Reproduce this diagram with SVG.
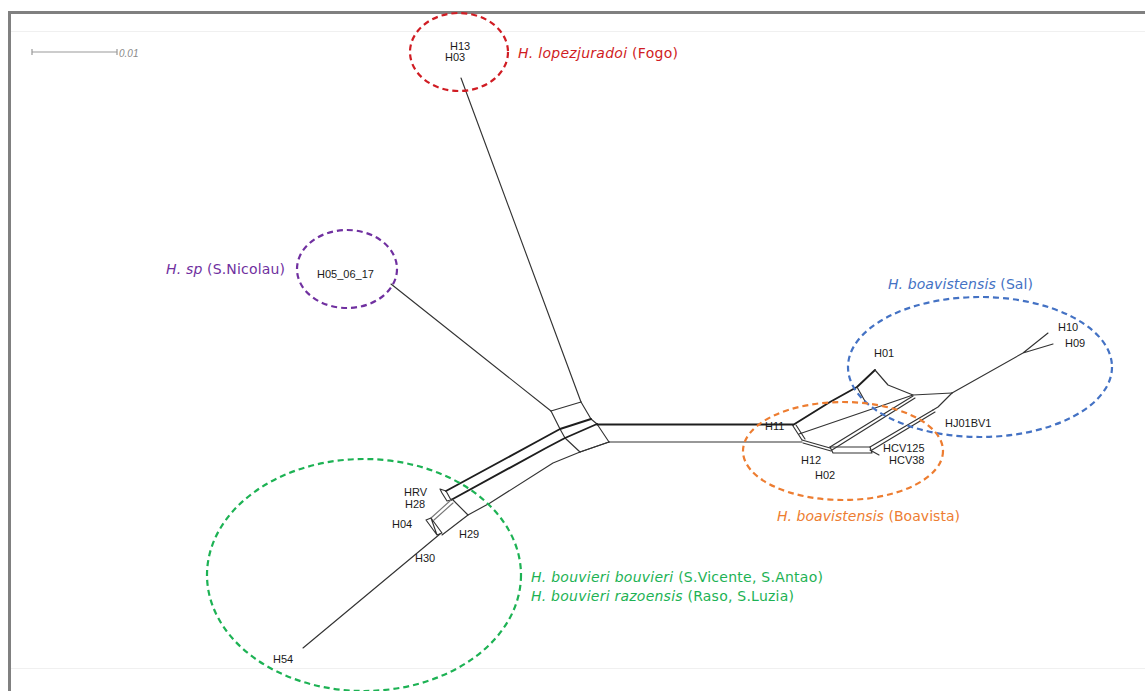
<svg xmlns="http://www.w3.org/2000/svg" width="1145" height="691" viewBox="0 0 1145 691">
  <style>
    .frame { fill: none; stroke: #808080; stroke-width: 3; }
    .rule { stroke: #f0f0f0; stroke-width: 1; }
    .edge { fill: none; stroke: #333; stroke-width: 1.15; stroke-linejoin: round; stroke-linecap: round; }
    .thick { stroke: #1e1e1e; stroke-width: 1.9; }
    .soft { stroke: #777; }
    .leaf { font-family: "Liberation Sans", Arial, sans-serif; font-size: 11px; fill: #1a1a1a; }
    .clade { font-family: "DejaVu Sans", Verdana, sans-serif; font-size: 14px; }
    .clade .sp { font-style: italic; }
    .ring { fill: none; stroke-width: 2.2; stroke-dasharray: 6 4; }
    .scale { stroke: #999; stroke-width: 1.2; fill: none; }
    .scaletxt { font-family: "Liberation Sans", Arial, sans-serif; font-size: 10px; font-style: italic; fill: #8a8a8a; }
  </style>

  <rect width="1145" height="691" fill="#fff"/>

  <!-- window frame -->
  <path class="frame" d="M9.5,691 V12.5 H1145"/>
  <line class="rule" x1="11" y1="31.5" x2="1145" y2="31.5"/>
  <line class="rule" x1="11" y1="668.5" x2="1145" y2="668.5"/>

  <!-- scale bar -->
  <g id="scale-bar">
    <path class="scale" d="M32,52 H117 M32,49 V55 M117,49 V55"/>
    <text class="scaletxt" x="119" y="57">0.01</text>
  </g>

  <!-- split network edges -->
  <g id="connectors">
    <!-- long pendant edges -->
    <path class="edge" d="M461,78 L581,402"/>
    <path class="edge" d="M391,284 L551,411"/>
    <!-- central box -->
    <path class="edge" d="M551,411 L581,402"/>
    <path class="edge" d="M551,411 L560,429 L565,438 L580,452"/>
    <path class="edge" d="M581,402 L591,419 L597,424 L609,442"/>
    <path class="edge" d="M580,452 L609,442"/>
    <!-- horizontal bridge -->
    <path class="edge thick" d="M597,424.5 H793"/>
    <path class="edge" d="M609,442 H802"/>
    <!-- left band -->
    <path class="edge thick" d="M591,419 L560,429 L538,441 L446,491"/>
    <path class="edge thick" d="M597,424 L565,438 L546,448 L451,500"/>
    <path class="edge" d="M609,442 L580,452 L553,463 L490,503 L468,515 L442,535"/>
    <path class="edge" d="M452,499 L468,515"/>
    <!-- HRV / H28 tip -->
    <path class="edge" d="M440,489 L446,491 L451,500 L447,501 L442,493 Z"/>
    <!-- H04 tip -->
    <path class="edge soft" d="M451,500 L431,518 M453,503 L434,520"/>
    <path class="edge" d="M426,520 L431,518 L442,533 L437,535 Z M431,518 L437,535"/>
    <!-- H30 / H54 edge -->
    <path class="edge" d="M440,534 L303,648"/>

    <!-- right block -->
    <path class="edge thick" d="M793,425 L830,402 L857,387 L875,370"/>
    <path class="edge" d="M875,370 L888,385 L913,395 L952,393"/>
    <path class="edge" d="M857,387 L866,403"/>
    <path class="edge" d="M952,393 L1023,353 L1048,333 M1023,353 L1053,344"/>
    <path class="edge" d="M793,426 L802,440 M796,425 L805,439"/>
    <path class="edge" d="M802,440 L830,448 M803,443 L831,451"/>
    <path class="edge" d="M799,434 L913,395"/>
    <path class="edge" d="M830,447 L913,396 M832,450 L915,398"/>
    <path class="edge" d="M830,447 H870 L872,453 H833 Z"/>
    <path class="edge" d="M870,450 L879,455"/>
    <path class="edge" d="M870,447 L933,410 M872,450 L935,412"/>
    <path class="edge" d="M933,410 L938,407 L952,393"/>
  </g>

  <!-- leaf labels -->
  <g id="node-H13"><text class="leaf" x="450" y="50">H13</text></g>
  <g id="node-H03"><text class="leaf" x="445" y="61">H03</text></g>
  <g id="node-H05_06_17"><text class="leaf" x="317" y="278">H05_06_17</text></g>
  <g id="node-HRV"><text class="leaf" x="404" y="496">HRV</text></g>
  <g id="node-H28"><text class="leaf" x="405" y="508">H28</text></g>
  <g id="node-H04"><text class="leaf" x="392" y="528">H04</text></g>
  <g id="node-H29"><text class="leaf" x="459" y="538">H29</text></g>
  <g id="node-H30"><text class="leaf" x="415" y="562">H30</text></g>
  <g id="node-H54"><text class="leaf" x="273" y="663">H54</text></g>
  <g id="node-H01"><text class="leaf" x="874" y="357">H01</text></g>
  <g id="node-H10"><text class="leaf" x="1058" y="331">H10</text></g>
  <g id="node-H09"><text class="leaf" x="1065" y="347">H09</text></g>
  <g id="node-HJ01BV1"><text class="leaf" x="945" y="427">HJ01BV1</text></g>
  <g id="node-H11"><text class="leaf" x="765" y="430">H11</text></g>
  <g id="node-HCV125"><text class="leaf" x="883" y="452">HCV125</text></g>
  <g id="node-HCV38"><text class="leaf" x="889" y="464">HCV38</text></g>
  <g id="node-H12"><text class="leaf" x="801" y="464">H12</text></g>
  <g id="node-H02"><text class="leaf" x="815" y="479">H02</text></g>

  <!-- taxon groupings -->
  <g id="clade-fogo">
    <ellipse class="ring" cx="459" cy="52" rx="49" ry="39" stroke="#d01c23"/>
    <text class="clade" x="518" y="58" fill="#d01c23" textLength="160"><tspan class="sp">H. lopezjuradoi</tspan> (Fogo)</text>
  </g>
  <g id="clade-snicolau">
    <ellipse class="ring" cx="347" cy="269" rx="50" ry="39" stroke="#7030a0"/>
    <text class="clade" x="166" y="274" fill="#7030a0" textLength="119"><tspan class="sp">H. sp</tspan> (S.Nicolau)</text>
  </g>
  <g id="clade-sal">
    <ellipse class="ring" cx="980" cy="367" rx="132" ry="70" stroke="#4472c4"/>
    <text class="clade" x="888" y="289" fill="#4472c4" textLength="145"><tspan class="sp">H. boavistensis</tspan> (Sal)</text>
  </g>
  <g id="clade-boavista">
    <ellipse class="ring" cx="843" cy="451" rx="100" ry="49" stroke="#ed7d31"/>
    <text class="clade" x="777" y="521" fill="#ed7d31" textLength="183"><tspan class="sp">H. boavistensis</tspan> (Boavista)</text>
  </g>
  <g id="clade-bouvieri">
    <ellipse class="ring" cx="364" cy="575" rx="157" ry="116" stroke="#1db254"/>
    <text class="clade" x="531" y="582" fill="#1db254" textLength="292"><tspan class="sp">H. bouvieri bouvieri</tspan> (S.Vicente, S.Antao)</text>
    <text class="clade" x="531" y="601" fill="#1db254" textLength="263"><tspan class="sp">H. bouvieri razoensis</tspan> (Raso, S.Luzia)</text>
  </g>
</svg>
